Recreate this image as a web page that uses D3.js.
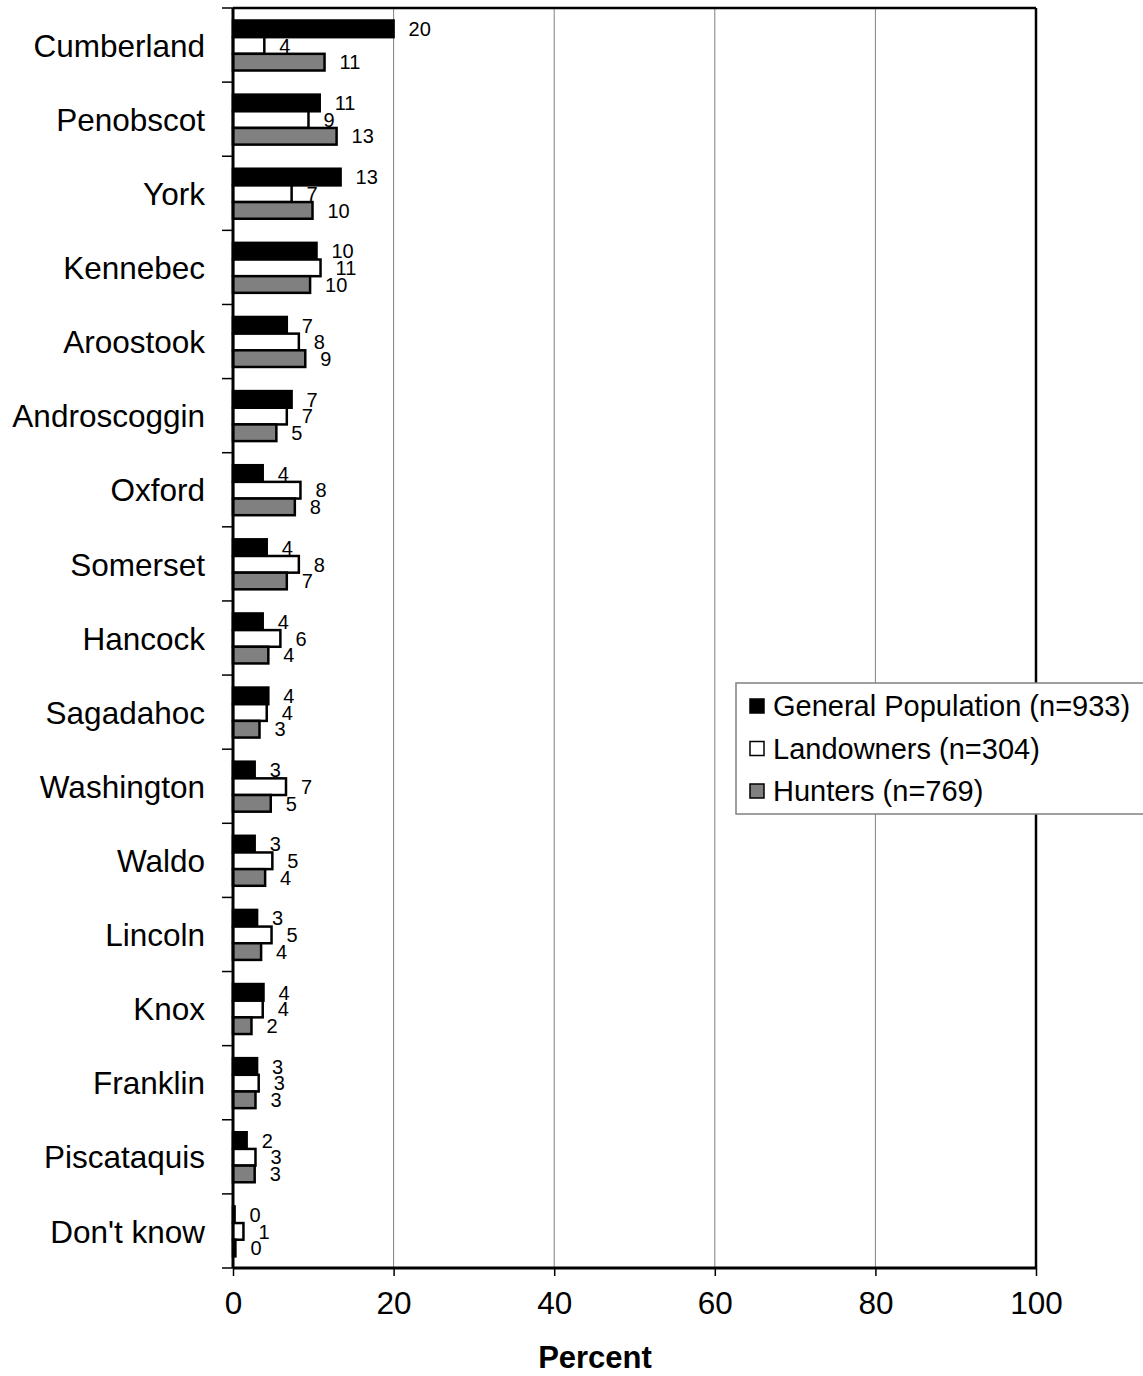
<!DOCTYPE html>
<html><head><meta charset="utf-8">
<script src="https://cdn.jsdelivr.net/npm/d3@7"></script>
<style>body{margin:0;background:#fff}svg{display:block;font-family:"Liberation Sans",Arial,sans-serif}</style>
</head><body><div id="chart"></div>
<script>
const categories = ["Cumberland","Penobscot","York","Kennebec","Aroostook","Androscoggin","Oxford","Somerset","Hancock","Sagadahoc","Washington","Waldo","Lincoln","Knox","Franklin","Piscataquis","Don't know"];
const seriesNames = ["General Population (n=933)","Landowners (n=304)","Hunters (n=769)"];
const generalPopulation = [20.0,10.8,13.4,10.4,6.7,7.3,3.7,4.2,3.7,4.4,2.7,2.7,3.0,3.8,3.0,1.7,0.2];
const landowners = [3.9,9.4,7.3,10.9,8.2,6.7,8.4,8.2,5.9,4.2,6.6,4.9,4.8,3.7,3.2,2.8,1.3];
const hunters = [11.4,12.9,9.9,9.6,9.0,5.4,7.7,6.7,4.4,3.3,4.7,4.0,3.5,2.3,2.8,2.7,0.3];
const xTicks = [0,20,40,60,80,100];
const fills = ["#000000","#ffffff","#808080"];

const W = 1143, H = 1376;
const svg = d3.select("#chart").append("svg").attr("width", W).attr("height", H);
const pLeft = 233, pRight = 1036, pTop = 8, pBottom = 1268;
const FONT = '"Liberation Sans",Arial,sans-serif';

const x = d3.scaleLinear().domain([0,100]).range([pLeft,pRight]);
const y = d3.scaleBand().domain(categories).range([pTop,pBottom]).padding(0);
const ySub = d3.scaleBand().domain([0,1,2]).range([12.5,62.5]).padding(0);

const series = [generalPopulation, landowners, hunters];

// gridlines
svg.append("g").selectAll("line").data(xTicks.filter(t=>t>0&&t<100)).join("line")
  .attr("x1", d=>x(d)).attr("x2", d=>x(d)).attr("y1", pTop).attr("y2", pBottom)
  .attr("stroke", "#808080").attr("stroke-width", 1);

// plot border top/right
svg.append("line").attr("x1", pLeft).attr("x2", pRight).attr("y1", pTop).attr("y2", pTop).attr("stroke","#000").attr("stroke-width",2.5);
svg.append("line").attr("x1", pRight).attr("x2", pRight).attr("y1", pTop).attr("y2", pBottom).attr("stroke","#000").attr("stroke-width",2.5);

// bars
categories.forEach((c, i) => {
  const g = svg.append("g").attr("transform", `translate(0,${y(c)})`);
  series.forEach((s, k) => {
    g.append("rect")
      .attr("x", x(0)).attr("y", ySub(k))
      .attr("width", Math.max(0, x(s[i]) - x(0))).attr("height", ySub.bandwidth())
      .attr("fill", fills[k]).attr("stroke", "#000").attr("stroke-width", 2.5);
    g.append("text")
      .attr("x", x(s[i]) + 15).attr("y", ySub(k) + ySub.bandwidth()/2)
      .attr("dy", "0.36em").attr("font-size", 20).attr("fill", "#000")
      .text(Math.round(s[i]));
  });
});

// y axis
const yAxis = d3.axisLeft(y).tickSize(0).tickPadding(28);
const yg = svg.append("g").attr("transform", `translate(${pLeft},0)`).call(yAxis);
yg.select(".domain").remove();
yg.selectAll("text").attr("font-size", 31.5).attr("fill","#000").attr("font-family",FONT).attr("dy","0.37em");
const bounds = categories.map(c=>y(c)).concat([pBottom]);
svg.append("g").selectAll("line").data(bounds).join("line")
  .attr("x1", pLeft-11).attr("x2", pLeft).attr("y1", d=>d).attr("y2", d=>d)
  .attr("stroke","#000").attr("stroke-width",1.5);
svg.append("line").attr("x1", pLeft).attr("x2", pLeft).attr("y1", pTop).attr("y2", pBottom).attr("stroke","#000").attr("stroke-width",3);

// x axis
const xAxis = d3.axisBottom(x).tickValues(xTicks).tickSize(8).tickPadding(16).tickFormat(d3.format("d"));
const xg = svg.append("g").attr("transform", `translate(0,${pBottom})`).call(xAxis);
xg.select(".domain").attr("stroke-width",3).attr("d", `M${pLeft},0H${pRight}`);
xg.selectAll(".tick line").attr("stroke-width",1.5);
xg.selectAll("text").attr("font-size", 31.5).attr("fill","#000").attr("font-family",FONT);

svg.append("text").attr("x", 595).attr("y", 1368)
  .attr("text-anchor","middle").attr("font-size", 31).attr("font-weight","bold").text("Percent");

// legend
const lg = svg.append("g").attr("transform","translate(736,683)");
lg.append("rect").attr("x",0).attr("y",0).attr("width",412).attr("height",131)
  .attr("fill","#fff").attr("stroke","#808080").attr("stroke-width",1.5);
seriesNames.forEach((n,k)=>{
  const yy = 23 + k*42.5;
  lg.append("rect").attr("x",14).attr("y",yy-7).attr("width",14).attr("height",14)
    .attr("fill",fills[k]).attr("stroke","#000").attr("stroke-width",1.5);
  lg.append("text").attr("x",37).attr("y",yy).attr("dy","0.36em").attr("font-size",29).text(n);
});
</script></body></html>
